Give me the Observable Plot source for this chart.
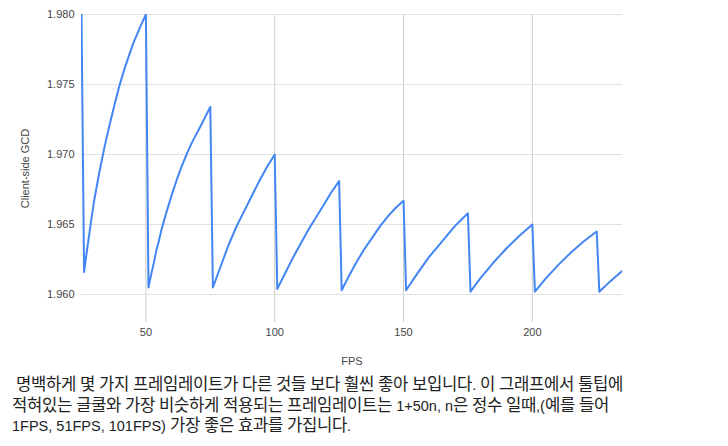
<!DOCTYPE html>
<html>
<head>
<meta charset="utf-8">
<script src="https://cdn.jsdelivr.net/npm/d3@7"></script>
<script src="https://cdn.jsdelivr.net/npm/@observablehq/plot@0.6"></script>
<style>
  @font-face {
    font-family: "KRWide";
    src: local("Noto Sans CJK KR"), local("Noto Sans CJK KR Regular"), local("NotoSansCJKkr-Regular");
    unicode-range: U+AC00-D7AF, U+1100-11FF, U+3130-318F;
    size-adjust: 115%;
  }
  html, body { margin: 0; padding: 0; background: #fff; }
  #chart svg { display: block; }
  #caption {
    margin: 5px 0 0 12px;
    width: 715px;
    font-family: "KRWide", "Liberation Sans", Arial, "Noto Sans CJK KR", sans-serif;
    font-size: 14.5px;
    line-height: 20.5px;
    color: #222;
    white-space: pre;
  }
</style>
</head>
<body>
<div id="chart"></div>
<div id="caption"></div>
<script>
// FPS values (x) and client-side GCD (y)
const fps = [
  25, 26, 27, 28, 29, 30, 32, 34, 36, 38, 40, 42, 45, 48, 50,
  51, 52, 53, 54, 55, 56, 58, 60, 62, 64, 66, 68, 70, 72, 75,
  76, 78, 80, 82, 85, 88, 91, 94, 97, 100,
  101, 104, 107, 110, 113, 116, 119, 122, 125,
  126, 129, 132, 135, 138, 141, 144, 147, 150,
  151, 155, 160, 165, 170, 175,
  176, 180, 185, 190, 195, 200,
  201, 205, 210, 215, 220, 225,
  226, 230, 235
];
const gcd = [
  1.9800, 1.9616, 1.9630, 1.9643, 1.9656, 1.9668, 1.9688, 1.9706, 1.9722, 1.9737, 1.9751, 1.9763, 1.9779, 1.9792, 1.9800,
  1.9605, 1.9614, 1.9622, 1.9631, 1.9638, 1.9646, 1.9659, 1.9671, 1.9682, 1.9692, 1.9701, 1.9709, 1.9716, 1.9723, 1.9734,
  1.9605, 1.9615, 1.9625, 1.9635, 1.9648, 1.9659, 1.9670, 1.9681, 1.9691, 1.9700,
  1.9604, 1.9615, 1.9626, 1.9636, 1.9646, 1.9655, 1.9664, 1.9673, 1.9681,
  1.9603, 1.9614, 1.9624, 1.9633, 1.9641, 1.9649, 1.9656, 1.9662, 1.9667,
  1.9603, 1.9614, 1.9627, 1.9638, 1.9649, 1.9658,
  1.9602, 1.9612, 1.9623, 1.9633, 1.9642, 1.9650,
  1.9602, 1.9611, 1.9621, 1.9630, 1.9638, 1.9645,
  1.9602, 1.9609, 1.9617
];
const xTicks = [50, 100, 150, 200];
const yTicks = [1.960, 1.965, 1.970, 1.975, 1.980];
const xLabel = "FPS";
const yLabel = "Client-side GCD";
const captionLines = [
  " 명백하게 몇 가지 프레임레이트가 다른 것들 보다 훨씬 좋아 보입니다. 이 그래프에서 툴팁에",
  "적혀있는 글쿨와 가장 비슷하게 적용되는 프레임레이트는 1+50n, n은 정수 일때,(예를 들어",
  "1FPS, 51FPS, 101FPS) 가장 좋은 효과를 가집니다."
];

const data = fps.map((f, i) => ({fps: f, gcd: gcd[i]}));

const chart = Plot.plot({
  width: 728,
  height: 370,
  marginLeft: 81,
  marginRight: 106,
  marginTop: 14,
  marginBottom: 48,
  style: {fontFamily: "'Liberation Sans', Arial, sans-serif", fontSize: "11px", color: "#444", background: "#fff"},
  x: {domain: [25, 235]},
  y: {domain: [1.958, 1.980]},
  marks: [
    Plot.gridX(xTicks, {stroke: "#cccccc", strokeOpacity: 1}),
    Plot.gridY(yTicks, {stroke: "#e0e0e0", strokeOpacity: 1, strokeWidth: 1.2}),
    Plot.line(data, {x: "fps", y: "gcd", stroke: "#4285F4", strokeWidth: 2, curve: "linear", clip: true}),
    Plot.axisX(xTicks, {tickSize: 0, tickPadding: 6, label: xLabel, labelAnchor: "center", labelOffset: 42, labelArrow: "none", fill: "#444"}),
    Plot.axisY(yTicks, {tickSize: 0, tickPadding: 7, tickFormat: d3.format(".3f"), label: yLabel, labelAnchor: "center", labelOffset: 60, labelArrow: "none", fill: "#444"})
  ]
});
document.getElementById("chart").appendChild(chart);
document.getElementById("caption").textContent = captionLines.join("\n");
</script>
</body>
</html>
